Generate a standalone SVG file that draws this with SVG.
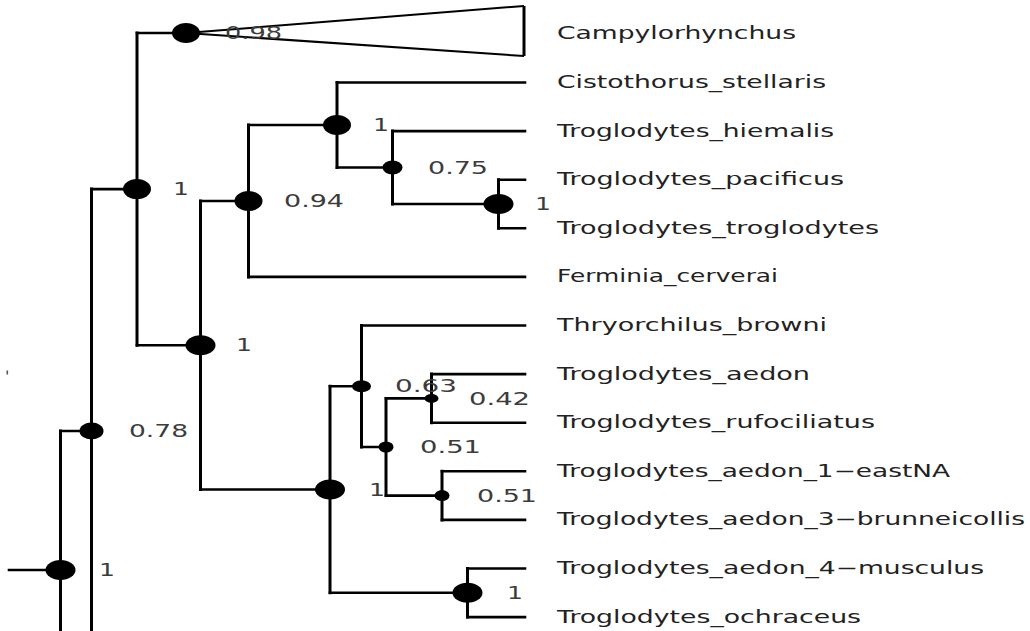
<svg xmlns="http://www.w3.org/2000/svg" width="1030" height="631" viewBox="0 0 1030 631">
<style>
.h{fill:none;stroke:#000;stroke-width:2.6;stroke-linecap:square}
.v{fill:none;stroke:#000;stroke-width:3;stroke-linecap:square}
.tri{fill:none;stroke:#000;stroke-width:2}
.tri-r{fill:none;stroke:#000;stroke-width:3}
.dot{fill:#000}
.tip{font-family:"DejaVu Sans",sans-serif;font-size:17.5px;fill:#222}
.sup{font-family:"DejaVu Sans",sans-serif;font-size:17.5px;fill:#3c3c3c}
</style>
<rect width="1030" height="631" fill="#fff"/>
<g id="connectors">
<path class="h" d="M9,570H60.5 M60.5,431H91.5 M91.5,189.1H137 M137,33H186 M137,345.2H200.5 M200.5,200.95H248.5 M248.5,125H337 M248.5,276.9H525 M337,82.5H525 M337,167.55H392.5 M392.5,131.1H525 M392.5,204H498.5 M498.5,179.7H525 M498.5,228.3H525 M200.5,489.5H330 M330,386.25H361.5 M330,592.8H467.5 M361.5,325.5H525 M361.5,447H386 M386,398.4H431.5 M386,495.6H442 M431.5,374.1H525 M431.5,422.7H525 M442,471.3H525 M442,519.9H525 M467.5,568.5H525 M467.5,617.1H525"/>
<path class="v" d="M60.5,431V640 M91.5,189.1V640 M137,33V345.2 M200.5,200.95V489.5 M248.5,125V276.9 M337,82.5V167.55 M392.5,131.1V204 M498.5,179.7V228.3 M330,386.25V592.8 M361.5,325.5V447 M386,398.4V495.6 M431.5,374.1V422.7 M442,471.3V519.9 M467.5,568.5V617.1"/>
</g>
<g id="clade-campylorhynchus">
<polyline class="tri" points="524,6 186,33 524,56"/>
<line class="tri-r" x1="524" y1="6" x2="524" y2="56"/>
<ellipse class="dot" cx="186" cy="33" rx="14" ry="10"/>
<text class="sup" x="225" y="39" textLength="57" lengthAdjust="spacingAndGlyphs">0.98</text>
<text class="tip" x="557" y="39" textLength="239" lengthAdjust="spacingAndGlyphs">Campylorhynchus</text>
</g>
<g id="node-root"><ellipse class="dot" cx="60.5" cy="570" rx="15" ry="10"/><text class="sup" x="99" y="576" textLength="16" lengthAdjust="spacingAndGlyphs">1</text></g>
<g id="node-078"><ellipse class="dot" cx="91.5" cy="431" rx="12" ry="8.5"/><text class="sup" x="129" y="437" textLength="59" lengthAdjust="spacingAndGlyphs">0.78</text></g>
<g id="node-1e"><ellipse class="dot" cx="137" cy="189.1" rx="14" ry="10"/><text class="sup" x="173" y="195" textLength="16" lengthAdjust="spacingAndGlyphs">1</text></g>
<g id="node-1d"><ellipse class="dot" cx="200.5" cy="345.2" rx="15" ry="10"/><text class="sup" x="236" y="351" textLength="16" lengthAdjust="spacingAndGlyphs">1</text></g>
<g id="node-094"><ellipse class="dot" cx="248.5" cy="200.95" rx="14" ry="10"/><text class="sup" x="284" y="207" textLength="60" lengthAdjust="spacingAndGlyphs">0.94</text></g>
<g id="node-1a"><ellipse class="dot" cx="337" cy="125" rx="14" ry="10"/><text class="sup" x="373" y="131" textLength="16" lengthAdjust="spacingAndGlyphs">1</text></g>
<g id="node-075"><ellipse class="dot" cx="392.5" cy="167.55" rx="10" ry="7"/><text class="sup" x="428" y="173.5" textLength="60" lengthAdjust="spacingAndGlyphs">0.75</text></g>
<g id="node-1pt"><ellipse class="dot" cx="498.5" cy="204" rx="15" ry="10"/><text class="sup" x="535" y="210" textLength="16" lengthAdjust="spacingAndGlyphs">1</text></g>
<g id="node-1b"><ellipse class="dot" cx="330" cy="489.5" rx="15" ry="10"/><text class="sup" x="369" y="495.5" textLength="16" lengthAdjust="spacingAndGlyphs">1</text></g>
<g id="node-063"><ellipse class="dot" cx="361.5" cy="386.25" rx="9.5" ry="6"/><text class="sup" x="395" y="392" textLength="62" lengthAdjust="spacingAndGlyphs">0.63</text></g>
<g id="node-051a"><ellipse class="dot" cx="386" cy="447" rx="7.5" ry="5.5"/><text class="sup" x="420" y="453" textLength="61" lengthAdjust="spacingAndGlyphs">0.51</text></g>
<g id="node-042"><ellipse class="dot" cx="431.5" cy="398.4" rx="7" ry="4.5"/><text class="sup" x="469" y="404.5" textLength="61" lengthAdjust="spacingAndGlyphs">0.42</text></g>
<g id="node-051b"><ellipse class="dot" cx="442" cy="495.6" rx="7.5" ry="5.5"/><text class="sup" x="477" y="501.5" textLength="60" lengthAdjust="spacingAndGlyphs">0.51</text></g>
<g id="node-1c"><ellipse class="dot" cx="467.5" cy="592.8" rx="15" ry="10"/><text class="sup" x="507" y="599" textLength="16" lengthAdjust="spacingAndGlyphs">1</text></g>
<g id="tip-cistothorus"><text class="tip" x="557" y="88" textLength="269" lengthAdjust="spacingAndGlyphs">Cistothorus_stellaris</text></g>
<g id="tip-hiemalis"><text class="tip" x="557" y="136.6" textLength="277" lengthAdjust="spacingAndGlyphs">Troglodytes_hiemalis</text></g>
<g id="tip-pacificus"><text class="tip" x="557" y="185.2" textLength="287" lengthAdjust="spacingAndGlyphs">Troglodytes_pacificus</text></g>
<g id="tip-troglodytes"><text class="tip" x="557" y="233.8" textLength="322" lengthAdjust="spacingAndGlyphs">Troglodytes_troglodytes</text></g>
<g id="tip-ferminia"><text class="tip" x="557" y="282.4" textLength="221" lengthAdjust="spacingAndGlyphs">Ferminia_cerverai</text></g>
<g id="tip-thryorchilus"><text class="tip" x="557" y="331" textLength="270" lengthAdjust="spacingAndGlyphs">Thryorchilus_browni</text></g>
<g id="tip-aedon"><text class="tip" x="557" y="379.6" textLength="253" lengthAdjust="spacingAndGlyphs">Troglodytes_aedon</text></g>
<g id="tip-rufociliatus"><text class="tip" x="557" y="428.2" textLength="318" lengthAdjust="spacingAndGlyphs">Troglodytes_rufociliatus</text></g>
<g id="tip-eastna"><text class="tip" x="557" y="476.8" textLength="393" lengthAdjust="spacingAndGlyphs">Troglodytes_aedon_1−eastNA</text></g>
<g id="tip-brunneicollis"><text class="tip" x="557" y="525.4" textLength="468" lengthAdjust="spacingAndGlyphs">Troglodytes_aedon_3−brunneicollis</text></g>
<g id="tip-musculus"><text class="tip" x="557" y="574" textLength="427" lengthAdjust="spacingAndGlyphs">Troglodytes_aedon_4−musculus</text></g>
<g id="tip-ochraceus"><text class="tip" x="557" y="622.6" textLength="304" lengthAdjust="spacingAndGlyphs">Troglodytes_ochraceus</text></g>
<rect x="6.5" y="370.5" width="1.6" height="4" fill="#555"/>
</svg>
